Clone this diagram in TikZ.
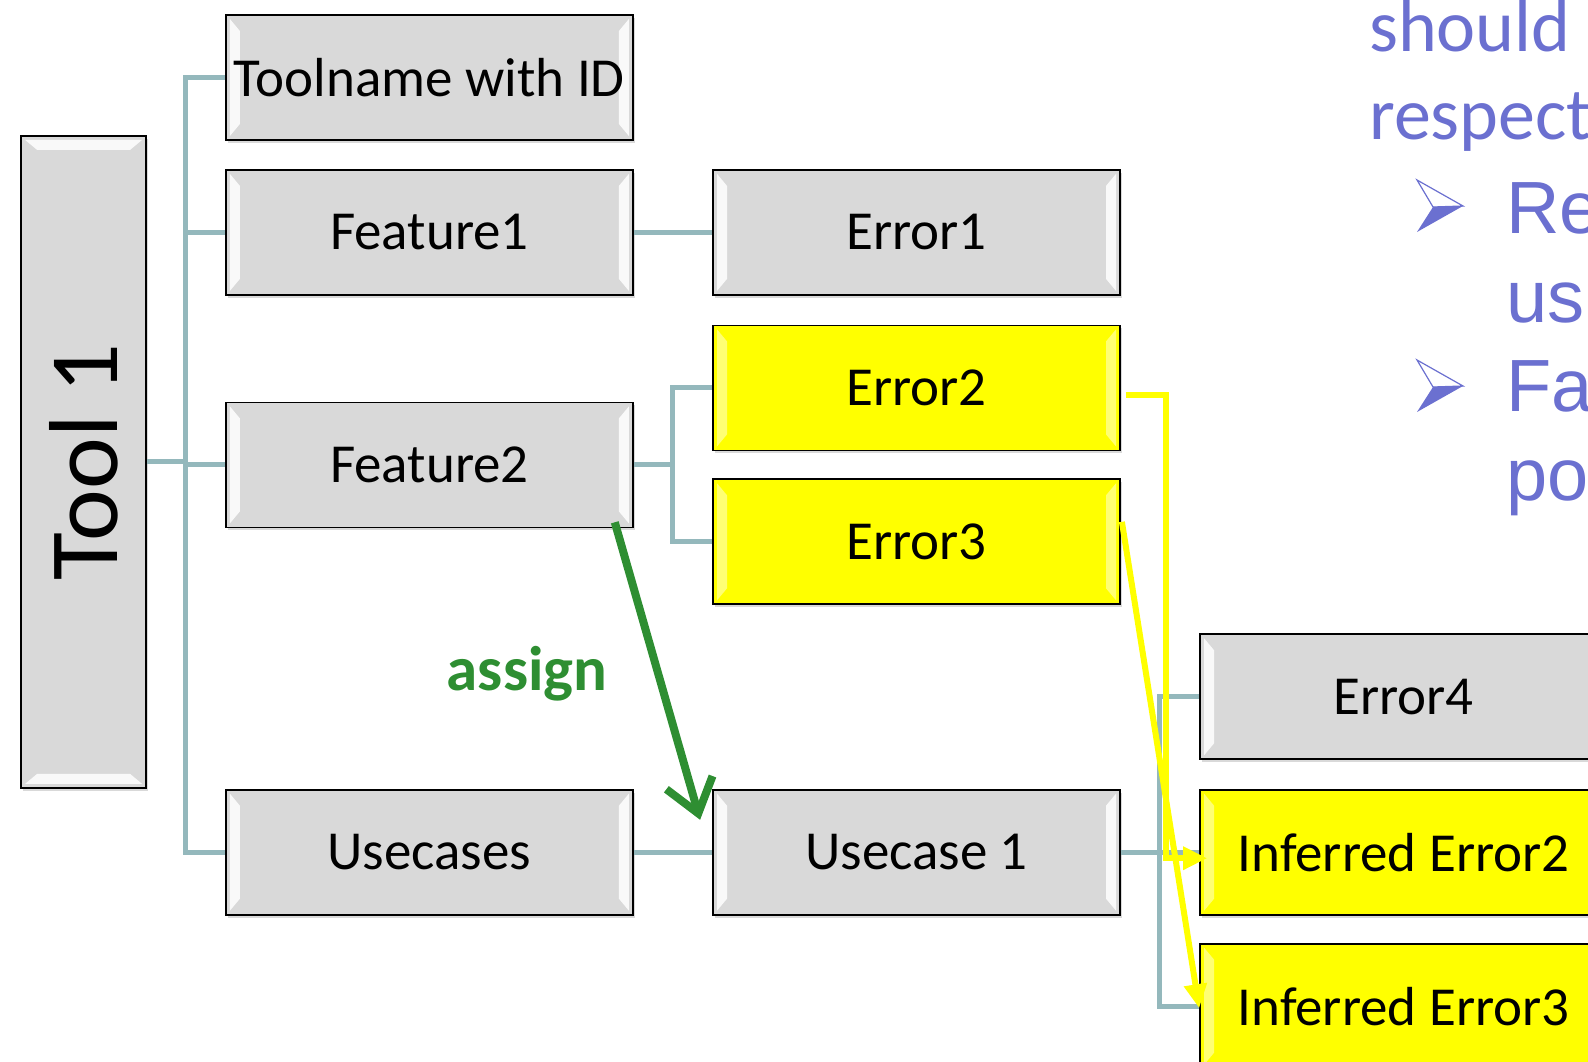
\documentclass[tikz,border=0pt]{standalone}
\usepackage{fontspec}
\setmainfont{Carlito}
\newfontfamily\arialfont{Liberation Sans}
\usetikzlibrary{arrows.meta,shadows,positioning,calc}

\definecolor{linkgray}{RGB}{148,184,188}
\definecolor{boxgray}{RGB}{217,217,217}
\definecolor{hotyellow}{RGB}{255,255,0}
\definecolor{assigngreen}{RGB}{46,142,50}
\definecolor{notecol}{RGB}{107,112,208}

\tikzset{
  sidebevel/.style={path picture={
      \fill[white,opacity=#1] ([xshift=4pt,yshift=-4pt]path picture bounding box.north west)
        -- ([xshift=14pt,yshift=-16pt]path picture bounding box.north west)
        -- ([xshift=14pt,yshift=16pt]path picture bounding box.south west)
        -- ([xshift=4pt,yshift=4pt]path picture bounding box.south west) -- cycle;
      \fill[white,opacity=#1] ([xshift=-4pt,yshift=-4pt]path picture bounding box.north east)
        -- ([xshift=-14pt,yshift=-16pt]path picture bounding box.north east)
        -- ([xshift=-14pt,yshift=16pt]path picture bounding box.south east)
        -- ([xshift=-4pt,yshift=4pt]path picture bounding box.south east) -- cycle;
    }},
  topbevel/.style={path picture={
      \fill[white,opacity=#1] ([xshift=4pt,yshift=-4pt]path picture bounding box.north west)
        -- ([xshift=16pt,yshift=-14pt]path picture bounding box.north west)
        -- ([xshift=-16pt,yshift=-14pt]path picture bounding box.north east)
        -- ([xshift=-4pt,yshift=-4pt]path picture bounding box.north east) -- cycle;
      \fill[white,opacity=#1] ([xshift=4pt,yshift=4pt]path picture bounding box.south west)
        -- ([xshift=16pt,yshift=14pt]path picture bounding box.south west)
        -- ([xshift=-16pt,yshift=14pt]path picture bounding box.south east)
        -- ([xshift=-4pt,yshift=4pt]path picture bounding box.south east) -- cycle;
    }},
  box/.style={draw=black, line width=1.8pt, fill=boxgray, minimum width=407pt,
    minimum height=125pt, inner sep=0pt, font=\fontsize{55}{60}\selectfont,
    drop shadow={shadow xshift=2pt, shadow yshift=-3pt, opacity=.3}, sidebevel=.85},
  hot/.style={box, fill=hotyellow, sidebevel=.45},
  link/.style={draw=linkgray, line width=5pt},
  hotlink/.style={draw=hotyellow, line width=6pt, -{Triangle[length=24pt,width=22pt]}},
  assignline/.style={draw=assigngreen, line width=8pt, -{Straight Barb[length=32pt,width=48pt]}},
  note/.style={text=notecol, inner sep=0pt, anchor=base west, font=\fontsize{74}{80}\selectfont},
  subnote/.style={note, font=\arialfont\fontsize{74}{80}\selectfont},
  notebullet/.pic={
    \draw[notecol, line width=1.2pt, fill=white] (-23,-26) -- (23,0) -- (-7,1) -- cycle;
    \fill[notecol] (-7,1) -- (23,0) -- (-23,26) -- cycle;
  }
}

\begin{document}
\begin{tikzpicture}[x=1pt,y=-1pt]
  \useasboundingbox (0,0) rectangle (1588,1062);

  % tool column
  \node[box, topbevel=.85, minimum width=125pt, minimum height=652pt,
    font=\fontsize{98}{100}\selectfont] (tool) at (83.6,461.9) {\rotatebox{90}{Tool 1}};
  \foreach \n/\y/\t in {toolname/77.5/Toolname with ID, feat1/232.4/Feature1,
                        feat2/464.9/Feature2, usecases/852.2/Usecases}
    \node[box] (\n) at (429.4,\y) {\t};

  % errors and usecase
  \node[box] (err1) at (916.5,232.4) {Error1};
  \node[hot] (err2) at (916.5,387.9) {Error2};
  \node[hot] (err3) at (916.5,541.8) {Error3};
  \node[box] (uc1) at (916.5,852.2) {Usecase 1};
  \node[box] (err4) at (1403.6,696.8) {Error4};
  \node[hot] (inf2) at (1403.6,852.2) {Inferred Error2};
  \node[hot] (inf3) at (1403.6,1006.2) {Inferred Error3};

  % tree lines
  \foreach \t in {toolname,feat1,feat2,usecases}
    \draw[link] (tool.east) -- ++(38.5,0) |- (\t.west);
  \draw[link] (feat1.east) -- (err1.west);
  \foreach \t in {err2,err3}
    \draw[link] (feat2.east) -- ++(38.5,0) |- (\t.west);
  \draw[link] (usecases.east) -- (uc1.west);
  \foreach \t in {err4,inf2,inf3}
    \draw[link] (uc1.east) -- ++(38.5,0) |- (\t.west);

  % inferred errors
  \draw[hotlink] ([xshift=5pt,yshift=-7.5pt]err2.east) -| ([xshift=-33pt,yshift=-6pt]inf2.west)
    -- ([xshift=8pt,yshift=-6pt]inf2.west);
  \draw[hotlink] ([xshift=1pt,yshift=20pt]err3.east) -- ([yshift=-2pt]inf3.west);

  % assign
  \draw[assignline] ([xshift=-19pt,yshift=6pt]feat2.south east) -- ([xshift=-12pt,yshift=-31pt]uc1.north west);
  \node[text=assigngreen, font=\bfseries\fontsize{63}{70}\selectfont] (assign) at (527,673.5) {assign};

  % side text
  \node[note] (should) at (1369,52) {should};
  \node[note] (respect) at (1369,140) {respect};
  \pic at (1440,206) {notebullet};
  \node[subnote] (re) at (1506,233) {Re};
  \node[subnote] (us) at (1506,322) {us};
  \pic at (1440,386) {notebullet};
  \node[subnote] (fa) at (1506,411) {Fa};
  \node[subnote] (po) at (1506,500) {po};
\end{tikzpicture}
\end{document}
